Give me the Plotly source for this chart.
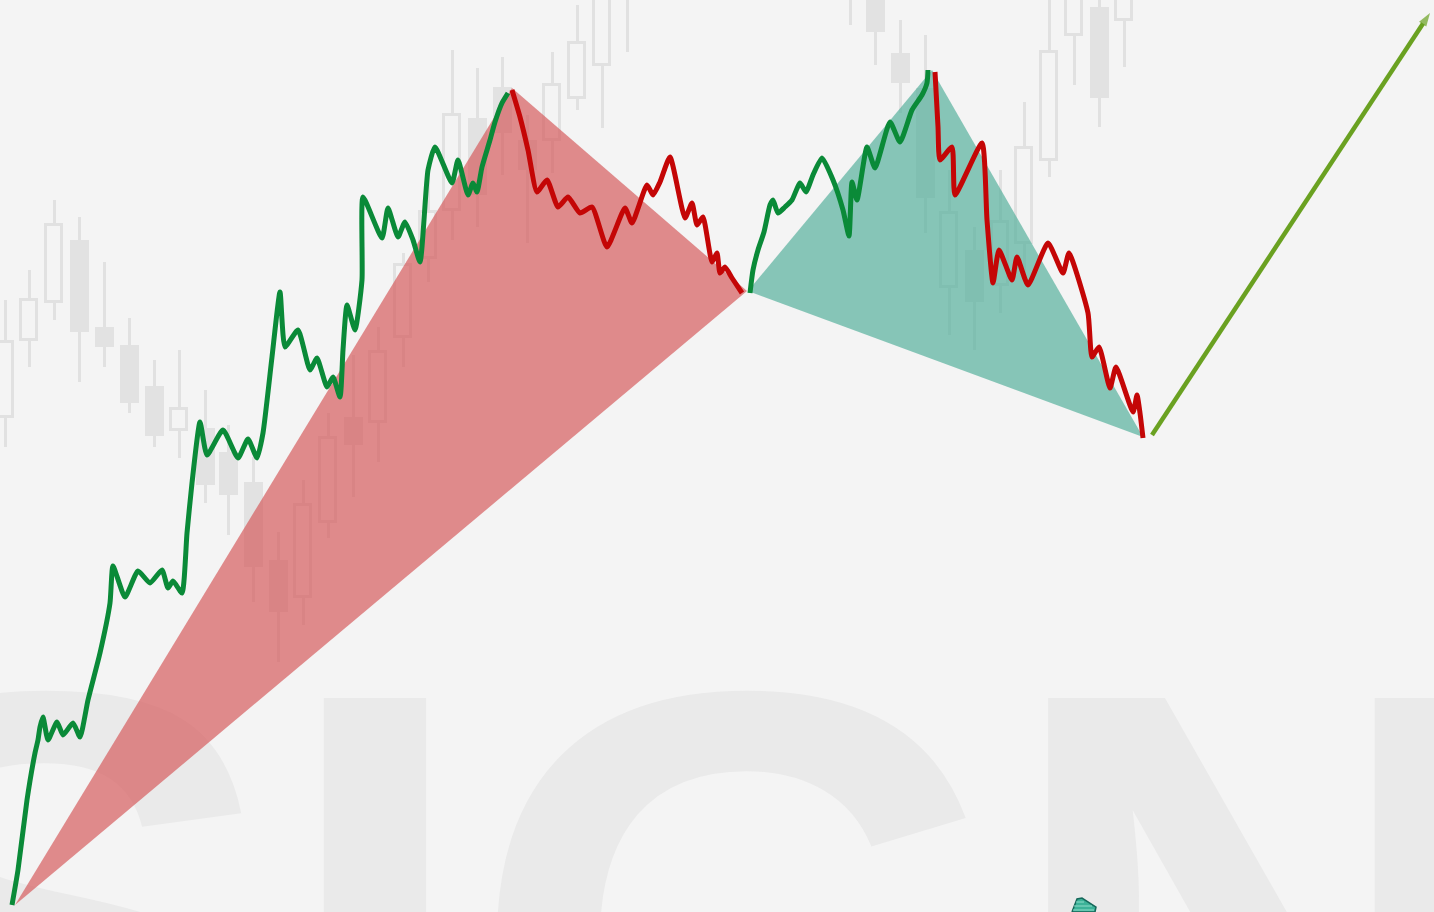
import plotly.graph_objects as go

W, H = 1434, 912
BG = "#f4f4f4"

# ---------------- data ----------------
# watermark letters
wm_letters = ["S", "I", "G", "N"]
wm_x = [45, 375, 744, 1257]
wm_y = [1009, 1009, 1009, 1009]

# background candles (x, body top, body bottom, wick top, wick bottom, filled)
candle_x = [5, 29, 54, 79, 104, 129, 154, 179, 205, 228, 253, 278, 303, 328, 353, 378, 403, 428,
            452, 477, 502, 527, 552, 577, 602, 627,
            850, 875, 900, 925, 949, 974, 1000, 1024, 1049, 1074, 1099, 1124]
body_top = [342, 300, 225, 240, 327, 345, 386, 409, 428, 452, 482, 560, 505, 438, 417, 352, 265, 212,
            115, 118, 87, 140, 85, 43, -20, -30,
            -40, -10, 53, 88, 213, 250, 222, 148, 52, -10, 7, -10]
body_bot = [417, 340, 302, 332, 347, 403, 436, 430, 485, 495, 567, 612, 597, 522, 445, 422, 337, 258,
            210, 195, 133, 170, 140, 98, 65, -5,
            -5, 32, 83, 198, 287, 302, 285, 243, 160, 35, 98, 20]
wick_top = [300, 270, 200, 217, 262, 318, 360, 350, 390, 425, 457, 532, 480, 413, 355, 327, 253, 175,
            50, 68, 57, 115, 52, 5, -30, -30,
            -40, -20, 20, 35, 170, 227, 170, 102, -10, -20, -10, -20]
wick_bot = [447, 367, 320, 382, 367, 413, 447, 458, 503, 535, 602, 662, 625, 538, 497, 462, 367, 282,
            240, 227, 175, 243, 173, 110, 128, 52,
            25, 65, 113, 233, 335, 350, 313, 275, 177, 85, 127, 67]
filled = [0, 0, 0, 1, 1, 1, 1, 0, 1, 1, 1, 1, 0, 0, 1, 0, 0, 0,
          0, 1, 1, 1, 0, 0, 0, 0,
          0, 1, 1, 1, 0, 1, 0, 0, 0, 0, 1, 0]

# pattern triangles
red_tri_x = [15, 512, 747]
red_tri_y = [905, 88, 291]
green_tri_x = [748, 932, 1143]
green_tri_y = [291, 70, 437]

# price paths
green1_x = [12, 18, 27, 35, 38, 40, 43, 48, 57, 63, 73, 80, 88, 100, 110, 113, 125, 138, 150, 162, 168,
            173, 182, 187, 192, 200, 207, 223, 238, 248, 257, 263, 272, 280, 285, 298, 310, 317, 327,
            333, 340, 343, 347, 355, 362, 363, 382, 388, 398, 405, 413, 420, 428, 435, 452, 458, 468,
            473, 477, 482, 490, 495, 502, 508]
green1_y = [905, 870, 800, 753, 740, 727, 717, 740, 722, 735, 723, 737, 700, 653, 603, 566, 597, 571,
            583, 570, 588, 581, 593, 533, 483, 422, 455, 430, 458, 439, 458, 433, 357, 292, 347, 330,
            370, 358, 387, 377, 397, 350, 305, 330, 280, 197, 238, 208, 237, 222, 240, 262, 170, 147,
            183, 160, 195, 183, 192, 167, 140, 122, 103, 93]
red1_x = [512, 520, 528, 537, 547, 558, 568, 580, 592, 607, 625, 632, 647, 653, 660, 670, 685, 692,
          697, 703, 712, 717, 720, 725, 732, 742]
red1_y = [90, 117, 150, 192, 180, 207, 197, 213, 207, 247, 208, 223, 185, 195, 182, 157, 218, 203,
          225, 217, 262, 253, 273, 267, 278, 293]
green2_x = [750, 753, 758, 764, 770, 773, 778, 785, 792, 800, 806, 813, 822, 833, 843, 849, 852, 857,
            867, 875, 890, 900, 912, 922, 927, 928]
green2_y = [293, 270, 250, 232, 205, 200, 213, 207, 200, 183, 192, 175, 158, 180, 210, 236, 182, 200,
            147, 168, 122, 142, 110, 95, 83, 70]
red2_x = [935, 938, 940, 952, 955, 982, 987, 993, 999, 1012, 1017, 1028, 1048, 1063, 1069, 1088,
          1092, 1099, 1110, 1116, 1133, 1137, 1140, 1143]
red2_y = [72, 127, 160, 147, 195, 143, 220, 283, 250, 280, 257, 285, 243, 273, 253, 313, 357, 347,
          388, 367, 412, 395, 413, 438]

# projection arrow
arrow_x = [1152, 1430]
arrow_y = [435, 13]

# small icon at the bottom
icon_x = [1072, 1077, 1082, 1096, 1095, 1072]
icon_y = [912, 899, 898, 907, 912, 912]
icon_stripe_x = [1076, 1084, None, 1074, 1092, None, 1073, 1094]
icon_stripe_y = [902, 902, None, 906, 906, None, 910, 910]

# ---------------- figure ----------------
fig = go.Figure()

WICK_C = "#e1e1e1"
BODY_C = "#e2e2e2"

# wicks (thin bars)
fig.add_trace(go.Bar(x=candle_x, base=wick_top,
                     y=[b - t for t, b in zip(wick_top, wick_bot)],
                     width=3, marker=dict(color=WICK_C, line=dict(width=0)),
                     hoverinfo="skip", showlegend=False))
# filled bodies
fx = [x for x, f in zip(candle_x, filled) if f]
ft = [t for t, f in zip(body_top, filled) if f]
fb = [b for b, f in zip(body_bot, filled) if f]
fig.add_trace(go.Bar(x=fx, base=ft, y=[b - t for t, b in zip(ft, fb)], width=19,
                     marker=dict(color=BODY_C, line=dict(width=0)),
                     hoverinfo="skip", showlegend=False))
# hollow bodies
hx = [x for x, f in zip(candle_x, filled) if not f]
ht = [t for t, f in zip(body_top, filled) if not f]
hb = [b for b, f in zip(body_bot, filled) if not f]
fig.add_trace(go.Bar(x=hx, base=ht, y=[b - t for t, b in zip(ht, hb)], width=16,
                     marker=dict(color=BG, line=dict(width=3, color=WICK_C)),
                     hoverinfo="skip", showlegend=False))

# watermark text
fig.add_trace(go.Scatter(x=wm_x, y=wm_y, mode="text", text=wm_letters,
                         textposition="middle center",
                         textfont=dict(family="Liberation Sans", size=710, color="#eaeaea", weight="bold"),
                         cliponaxis=True, hoverinfo="skip", showlegend=False))

# triangles
fig.add_trace(go.Scatter(x=red_tri_x + [red_tri_x[0]], y=red_tri_y + [red_tri_y[0]],
                         mode="lines", fill="toself", fillcolor="rgba(214,93,94,0.7)",
                         line=dict(width=0), hoverinfo="skip", showlegend=False))
fig.add_trace(go.Scatter(x=green_tri_x + [green_tri_x[0]], y=green_tri_y + [green_tri_y[0]],
                         mode="lines", fill="toself", fillcolor="rgba(87,177,157,0.7)",
                         line=dict(width=0), hoverinfo="skip", showlegend=False))

GREEN = "#0a8a38"
RED = "#c40606"
for xs, ys, c in [(green1_x, green1_y, GREEN), (red1_x, red1_y, RED),
                  (green2_x, green2_y, GREEN), (red2_x, red2_y, RED)]:
    fig.add_trace(go.Scatter(x=xs, y=ys, mode="lines",
                             line=dict(color=c, width=5, shape="spline", smoothing=0.5),
                             hoverinfo="skip", showlegend=False))

# arrow
fig.add_trace(go.Scatter(x=arrow_x, y=arrow_y, mode="lines+markers",
                         line=dict(color="#6aa121", width=4.5),
                         marker=dict(symbol="arrow", size=[0, 14], angleref="previous",
                                     color="#6aa121", line=dict(width=0)),
                         hoverinfo="skip", showlegend=False))

# icon
fig.add_trace(go.Scatter(x=icon_x, y=icon_y, mode="lines", fill="toself", fillcolor="#3cb298",
                         line=dict(color="#16685a", width=1.5), hoverinfo="skip", showlegend=False))
fig.add_trace(go.Scatter(x=icon_stripe_x, y=icon_stripe_y, mode="lines",
                         line=dict(color="#8edcc9", width=1), hoverinfo="skip", showlegend=False))

fig.update_layout(
    width=W, height=H,
    margin=dict(l=0, r=0, t=0, b=0),
    paper_bgcolor=BG, plot_bgcolor=BG,
    barmode="overlay", bargap=0,
    showlegend=False,
    xaxis=dict(range=[0, W], visible=False, fixedrange=True),
    yaxis=dict(range=[H, 0], visible=False, fixedrange=True),
)

fig.write_html("out.html", config={"displayModeBar": False},
               post_script="document.body.style.margin='0';document.body.style.overflow='hidden';")
